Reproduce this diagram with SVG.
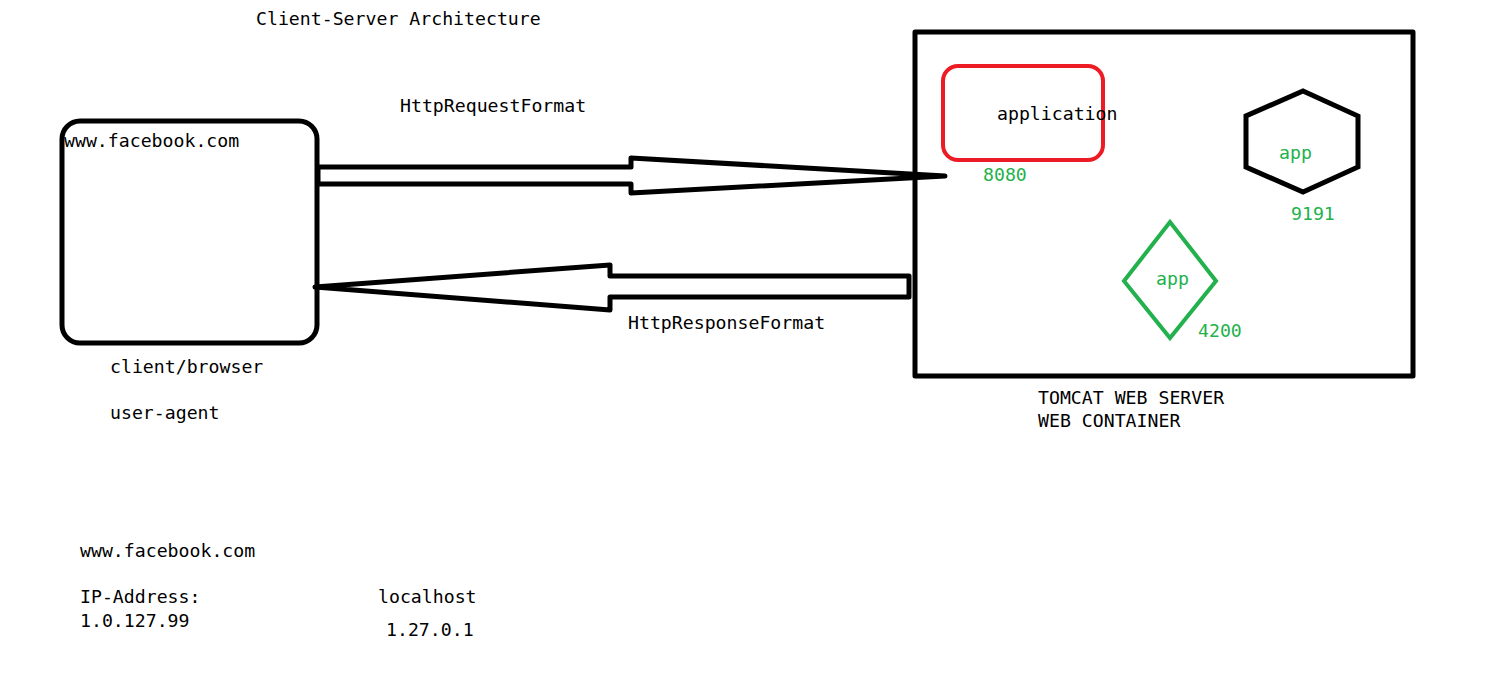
<svg xmlns="http://www.w3.org/2000/svg" width="1499" height="694" viewBox="0 0 1499 694">
<style>
text{font-family:"DejaVu Sans Mono","Liberation Mono",monospace;font-size:18.2px;fill:#000}
.g{fill:#22b14c}
.blk{fill:#fff;stroke:#000;stroke-width:5;stroke-linejoin:round}
.arr{fill:#fff;stroke:#000;stroke-width:5;stroke-linejoin:round}
</style>
<rect width="1499" height="694" fill="#fff"/>
<text x="256" y="25">Client-Server Architecture</text>
<g id="server">
<rect class="blk" x="915" y="32" width="498" height="344"/>
<text x="1038" y="404">TOMCAT WEB SERVER</text>
<text x="1038" y="427">WEB CONTAINER</text>
</g>
<g id="application">
<rect x="943" y="66" width="160" height="94" rx="15" fill="none" stroke="#ed1c24" stroke-width="4"/>
<text x="997" y="120">application</text>
<text class="g" x="983" y="181">8080</text>
</g>
<g id="app9191">
<polygon points="1303,91 1358,116 1358,167 1303,192 1246,167 1246,116" fill="none" stroke="#000" stroke-width="5"/>
<text class="g" x="1279" y="159">app</text>
<text class="g" x="1291" y="220">9191</text>
</g>
<g id="app4200">
<polygon points="1170,222 1216,281 1170,338 1124,281" fill="none" stroke="#22b14c" stroke-width="4"/>
<text class="g" x="1156" y="285">app</text>
<text class="g" x="1198" y="337">4200</text>
</g>
<g id="client">
<rect class="blk" x="62" y="121" width="255" height="222" rx="18"/>
<text x="64" y="147">www.facebook.com</text>
<text x="110" y="373">client/browser</text>
<text x="110" y="419">user-agent</text>
</g>
<g id="connectors">
<polygon class="arr" points="318,167 631,167 631,158 945,176 631,193 631,184 318,184"/>
<text x="400" y="112">HttpRequestFormat</text>
<polygon class="arr" points="909,276 610,276 610,265 315,287 610,310 610,297 909,297"/>
<text x="628" y="329">HttpResponseFormat</text>
</g>
<g id="notes">
<text x="80" y="557">www.facebook.com</text>
<text x="80" y="603">IP-Address:</text>
<text x="80" y="627">1.0.127.99</text>
<text x="378" y="603">localhost</text>
<text x="386" y="636">1.27.0.1</text>
</g>
</svg>
